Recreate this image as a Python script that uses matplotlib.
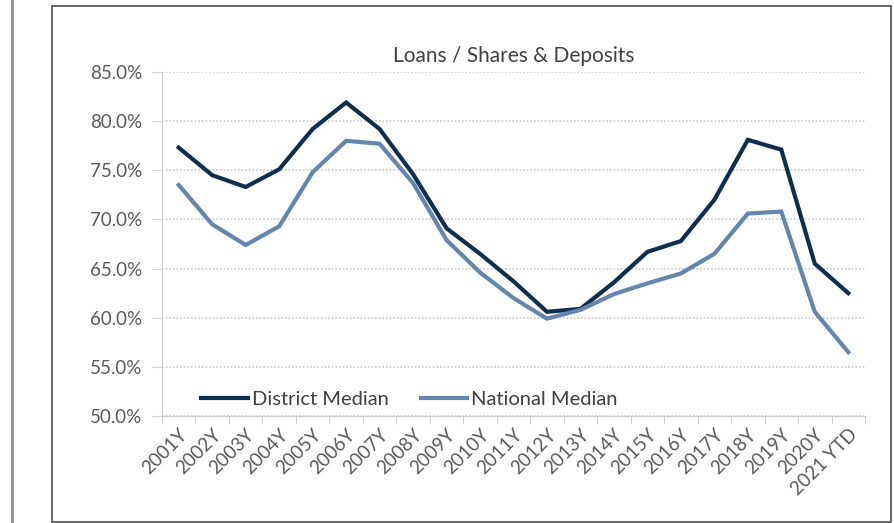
import numpy as np
import matplotlib
matplotlib.use("Agg")
import matplotlib.pyplot as plt
from matplotlib.ticker import FuncFormatter, FixedLocator

years = ["2001Y", "2002Y", "2003Y", "2004Y", "2005Y", "2006Y", "2007Y",
         "2008Y", "2009Y", "2010Y", "2011Y", "2012Y", "2013Y", "2014Y",
         "2015Y", "2016Y", "2017Y", "2018Y", "2019Y", "2020Y", "2021 YTD"]

# loans / shares & deposits, percent
district = [77.3, 74.5, 73.3, 75.1, 79.2, 81.9, 79.2, 74.6, 69.1, 66.5,
            63.7, 60.6, 60.9, 63.6, 66.7, 67.8, 72.0, 78.1, 77.1, 65.5, 62.5]
national = [73.5, 69.5, 67.4, 69.3, 74.8, 78.0, 77.7, 73.7, 67.9, 64.6,
            62.0, 59.9, 60.8, 62.4, 63.5, 64.5, 66.5, 70.6, 70.8, 60.6, 56.5]

plt.rcParams['font.family'] = ['Lato', 'DejaVu Sans']

fig = plt.figure(figsize=(8.95, 5.23), dpi=100)
W, H = 895, 523

# outer frame and the stray line on the left
fig.add_artist(plt.Rectangle((52 / W, 1 - 522 / H), (891 - 52) / W, (522 - 6) / H,
                             transform=fig.transFigure, fill=False,
                             edgecolor="#4d4d4d", linewidth=1.2))
fig.add_artist(plt.Line2D([12 / W, 12 / W], [0, 1], transform=fig.transFigure,
                          color="#8c8c8c", linewidth=2))

ax = fig.add_axes([162 / W, 1 - 416 / H, (865 - 162) / W, (416 - 72) / H])

x = np.arange(len(years))
ax.plot(x, district, color="#0f2e4f", linewidth=3, label="District Median",
        solid_joinstyle="miter")
ax.plot(x, national, color="#6485ae", linewidth=3, label="National Median",
        solid_joinstyle="miter")

ax.set_xlim(-0.5, len(years) - 0.5)
ax.set_ylim(50, 85)
ax.set_yticks(np.arange(50, 86, 5))
ax.yaxis.set_major_formatter(FuncFormatter(lambda v, p: "%.1f%%" % v))
ax.grid(axis="y", color="#d0d0d0", linestyle=(0, (1, 1)), linewidth=1.3)
ax.set_axisbelow(True)

ax.set_xticks(x)
ax.set_xticklabels(years, rotation=45, ha="right", rotation_mode="anchor",
                   fontsize=13.5, color="#595959")
ax.tick_params(axis="x", length=0, pad=7)
ax.xaxis.set_minor_locator(FixedLocator(np.arange(-0.5, len(years), 1)))
ax.tick_params(axis="x", which="minor", length=6, color="#c8c8c8")
ax.tick_params(axis="y", length=7, color="#d0d0d0", labelsize=13.5,
               labelcolor="#595959", pad=7)

for s in ["top", "right"]:
    ax.spines[s].set_visible(False)
ax.spines["left"].set_color("#d0d0d0")
ax.spines["bottom"].set_color("#c8c8c8")

ax.set_title("Loans / Shares & Deposits", fontsize=15, color="#404040", pad=7)

leg = ax.legend(loc="lower left", bbox_to_anchor=(0.03, -0.03), ncol=2,
                frameon=False, fontsize=14.5, handlelength=2.3,
                handletextpad=0.2, columnspacing=1.6, labelcolor="#404040")

fig.savefig("out.png", dpi=100)
